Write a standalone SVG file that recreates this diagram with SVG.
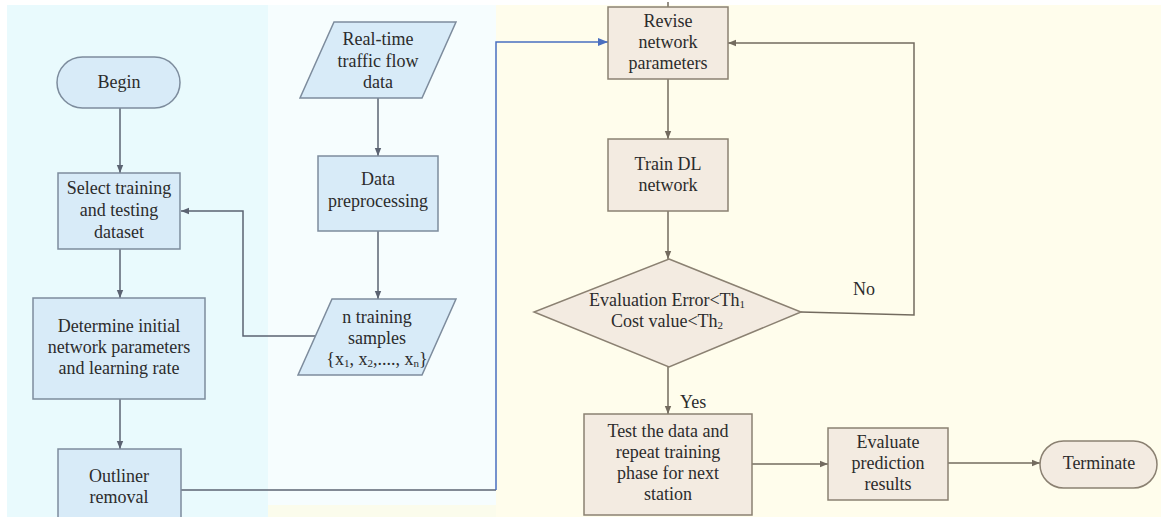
<svg xmlns="http://www.w3.org/2000/svg" width="1161" height="522" viewBox="0 0 1161 522">
<defs>
<style>
text{font-family:"Liberation Serif","Times New Roman",serif;font-size:18px;fill:#2c2c2c;text-anchor:middle}
.ln{fill:#d8ebf8;stroke:#7d8c9d;stroke-width:1.5}
.rn{fill:#f3ebe1;stroke:#8b8172;stroke-width:1.5}
.cl{fill:none;stroke:#5b6372;stroke-width:1.5}
.cr{fill:none;stroke:#736b5f;stroke-width:1.5}
.cb{fill:none;stroke:#4a6fc0;stroke-width:1.5}
.sub{font-size:11px}
</style>
<marker id="al" viewBox="0 0 10 10" refX="10" refY="5" markerWidth="8" markerHeight="8" markerUnits="userSpaceOnUse" orient="auto"><path d="M0,1 L10,5 L0,9 z" fill="#5b6372"/></marker>
<marker id="ar" viewBox="0 0 10 10" refX="10" refY="5" markerWidth="8" markerHeight="8" markerUnits="userSpaceOnUse" orient="auto"><path d="M0,1 L10,5 L0,9 z" fill="#736b5f"/></marker>
<marker id="ab" viewBox="0 0 10 10" refX="10" refY="5" markerWidth="10" markerHeight="10" markerUnits="userSpaceOnUse" orient="auto"><path d="M0,1 L10,5 L0,9 z" fill="#4a6fc0"/></marker>
</defs>
<g id="background">
<rect x="0" y="0" width="1161" height="522" fill="#ffffff"/>
<rect x="7" y="5" width="261" height="512" fill="#e9fafd"/>
<rect x="268" y="5" width="228" height="512" fill="#f6fdfe"/>
<rect x="268" y="505" width="228" height="12" fill="#fbfcec"/>
<rect x="496" y="5" width="665" height="512" fill="#fffdec"/>
</g>
<g id="connectors">
<path class="cl" d="M120,108 V173" marker-end="url(#al)"/>
<path class="cl" d="M120,249 V298" marker-end="url(#al)"/>
<path class="cl" d="M120,399 V449" marker-end="url(#al)"/>
<path class="cl" d="M378,98 V156" marker-end="url(#al)"/>
<path class="cl" d="M378,231 V299" marker-end="url(#al)"/>
<path class="cl" d="M316,336 H243 V211 H181" marker-end="url(#al)"/>
<path class="cl" d="M181,490 H496"/>
<path class="cb" d="M496,490 V42 H608" marker-end="url(#ab)"/>
<path class="cr" d="M668,2 V7"/>
<path class="cr" d="M668,79 V139" marker-end="url(#ar)"/>
<path class="cr" d="M668,211 V259" marker-end="url(#ar)"/>
<path class="cr" d="M668,367 V414" marker-end="url(#ar)"/>
<path class="cr" d="M801,312 L914,315 V43 H728" marker-end="url(#ar)"/>
<path class="cr" d="M752,464 H828" marker-end="url(#ar)"/>
<path class="cr" d="M948,463 H1040" marker-end="url(#ar)"/>
<text x="853" y="295" style="text-anchor:start">No</text>
<text x="680" y="408" style="text-anchor:start">Yes</text>
</g>
<g id="begin">
<rect class="ln" x="57" y="57" width="123" height="51" rx="25.5"/>
<text x="119" y="88">Begin</text>
</g>
<g id="select">
<rect class="ln" x="58" y="173" width="122" height="76"/>
<text x="119" y="194">Select training</text>
<text x="119" y="216">and testing</text>
<text x="119" y="238">dataset</text>
</g>
<g id="determine">
<rect class="ln" x="33" y="298" width="172" height="101"/>
<text x="119" y="332">Determine initial</text>
<text x="119" y="353">network parameters</text>
<text x="119" y="374">and learning rate</text>
</g>
<g id="outliner">
<path class="ln" d="M58,517 V449 H181 V517"/>
<text x="119" y="482">Outliner</text>
<text x="119" y="503">removal</text>
</g>
<g id="realtime">
<polygon class="ln" points="334,22 456,22 422,98 300,98"/>
<text x="378" y="45">Real-time</text>
<text x="378" y="67">traffic flow</text>
<text x="378" y="88">data</text>
</g>
<g id="preprocessing">
<rect class="ln" x="318" y="156" width="120" height="75"/>
<text x="378" y="185">Data</text>
<text x="378" y="207">preprocessing</text>
</g>
<g id="samples">
<polygon class="ln" points="332,299 456,299 422,375 298,375"/>
<text x="377" y="323">n training</text>
<text x="377" y="344">samples</text>
<text x="377" y="365">{x<tspan class="sub" dy="2">1</tspan><tspan dy="-2">, x</tspan><tspan class="sub" dy="2">2</tspan><tspan dy="-2">,...., x</tspan><tspan class="sub" dy="2">n</tspan><tspan dy="-2">}</tspan></text>
</g>
<g id="revise">
<rect class="rn" x="608" y="7" width="120" height="72"/>
<text x="668" y="27">Revise</text>
<text x="668" y="48">network</text>
<text x="668" y="69">parameters</text>
</g>
<g id="train">
<rect class="rn" x="608" y="139" width="120" height="72"/>
<text x="668" y="170">Train DL</text>
<text x="668" y="191">network</text>
</g>
<g id="decision">
<polygon class="rn" points="669,259 801,312 669,367 534,312"/>
<text x="667" y="306">Evaluation Error&lt;Th<tspan class="sub" dy="2">1</tspan></text>
<text x="667" y="327">Cost value&lt;Th<tspan class="sub" dy="2">2</tspan></text>
</g>
<g id="test">
<rect class="rn" x="584" y="414" width="168" height="101"/>
<text x="668" y="437">Test the data and</text>
<text x="668" y="458">repeat training</text>
<text x="668" y="479">phase for next</text>
<text x="668" y="500">station</text>
</g>
<g id="evaluate">
<rect class="rn" x="828" y="428" width="120" height="72"/>
<text x="888" y="448">Evaluate</text>
<text x="888" y="469">prediction</text>
<text x="888" y="490">results</text>
</g>
<g id="terminate">
<rect class="rn" x="1040" y="441" width="117" height="47" rx="23.5"/>
<text x="1099" y="469">Terminate</text>
</g>
</svg>
